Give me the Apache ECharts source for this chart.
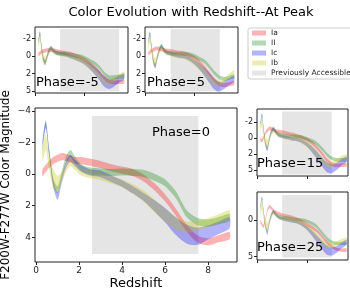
<!DOCTYPE html>
<html><head><meta charset="utf-8">
<script src="https://cdn.jsdelivr.net/npm/echarts@6/dist/echarts.min.js"></script>
<style>html,body{margin:0;padding:0;background:#fff}#c{width:350px;height:290px}</style>
</head><body><div id="c"></div>
<script>
// ---------------- DATA ----------------
const redshift = [0.3,0.45,0.6,0.8,1.0,1.2,1.4,1.6,1.8,2.1,2.5,3.0,3.5,4.0,4.5,5.0,5.5,6.0,6.5,7.0,7.5,8.0,8.5,9.0];
const typeNames = ['Ia','II','Ic','Ib'];
const spanName = 'Previously Accessible';
const phaseLabels = ['Phase=-5','Phase=5','Phase=0','Phase=15','Phase=25'];

// band thickness (mag) per type
const widthIa = [0.45,0.45,0.45,0.45,0.45,0.45,0.45,0.45,0.45,0.45,0.45,0.45,0.45,0.45,0.45,0.45,0.45,0.45,0.45,0.45,0.45,0.45,0.45,0.45];
const widthII = [0.45,0.45,0.45,0.45,0.45,0.45,0.45,0.45,0.45,0.45,0.45,0.45,0.45,0.45,0.45,0.45,0.45,0.45,0.45,0.45,0.45,0.45,0.45,0.45];
const widthIc = [0.4,0.4,0.4,0.45,0.45,0.4,0.4,0.4,0.4,0.4,0.4,0.4,0.4,0.4,0.45,0.5,0.7,0.9,1.1,1.2,1.1,0.9,0.8,0.7];
const widthIb = [0.8,1.0,1.0,1.2,1.0,0.6,0.5,0.5,0.5,0.5,0.5,0.5,0.5,0.5,0.6,0.7,0.8,0.8,0.8,0.7,0.6,0.6,0.6,0.6];

// Phase = -5
const phaseM5_Ia = [-0.2,-0.35,-0.5,-0.6,-0.65,-0.7,-0.7,-0.7,-0.65,-0.6,-0.5,-0.4,-0.3,-0.1,0.1,0.4,0.8,1.3,1.9,2.5,2.9,3.0,2.95,2.9];
const phaseM5_II = [-1.5,-2.7,-1.2,0.3,0.6,-0.2,-0.8,-0.95,-0.7,-0.4,-0.3,-0.3,-0.2,-0.1,0.0,0.2,0.5,0.8,1.3,2.0,2.4,2.4,2.35,2.3];
const phaseM5_Ic = [-1.8,-2.6,-1.2,0.4,0.8,0.0,-0.6,-0.9,-0.65,-0.4,-0.3,-0.2,0.0,0.2,0.4,0.7,1.1,1.6,2.2,2.9,3.2,3.0,2.6,2.3];
const phaseM5_Ib = [-1.2,-2.2,-0.9,0.3,0.55,0.1,-0.5,-0.8,-0.6,-0.35,-0.25,-0.15,0.0,0.2,0.4,0.7,1.1,1.6,2.2,2.8,3.0,2.7,2.3,2.05];
// Phase = 5
const phaseP5_Ia = [-0.3,-0.45,-0.6,-0.75,-0.85,-0.9,-0.85,-0.8,-0.75,-0.65,-0.6,-0.5,-0.4,-0.3,-0.1,0.2,0.7,1.3,2.0,2.7,3.2,3.3,3.2,3.05];
const phaseP5_II = [-1.5,-2.6,-1.2,0.5,1.0,0.0,-0.8,-1.2,-0.9,-0.5,-0.35,-0.3,-0.3,-0.3,-0.2,0.0,0.3,0.6,1.2,1.9,2.4,2.6,2.45,2.3];
const phaseP5_Ic = [-1.8,-2.6,-1.2,0.6,1.2,0.2,-0.6,-1.1,-0.8,-0.45,-0.3,-0.15,0.0,0.05,0.3,0.7,1.2,1.8,2.5,3.2,3.5,3.3,2.9,2.6];
const phaseP5_Ib = [-1.1,-2.0,-0.9,0.4,0.7,0.1,-0.5,-0.9,-0.7,-0.4,-0.25,-0.1,0.0,0.1,0.35,0.7,1.2,1.8,2.5,3.0,3.1,2.8,2.3,1.9];
// Phase = 0
const phase0_Ia = [-0.1,-0.35,-0.6,-0.85,-1.0,-1.1,-1.05,-0.95,-0.85,-0.85,-0.75,-0.6,-0.4,-0.25,-0.1,0.25,0.8,1.5,2.4,3.4,4.1,4.3,4.1,3.9];
const phase0_II = [-1.6,-3.2,-1.5,0.5,1.0,0.0,-0.9,-1.3,-0.9,-0.4,-0.2,-0.13,-0.1,-0.13,-0.1,-0.04,0.2,0.55,1.3,2.5,3.0,3.1,2.95,2.75];
const phase0_Ic = [-2.0,-3.1,-1.5,0.6,1.4,0.3,-0.6,-1.0,-0.7,-0.35,-0.1,0.0,0.3,0.6,1.0,1.45,2.0,2.6,3.3,3.8,3.95,3.7,3.4,3.1];
const phase0_Ib = [-1.2,-2.0,-0.8,0.3,0.6,0.2,-0.4,-0.75,-0.5,-0.15,0.0,0.13,0.35,0.6,0.95,1.4,2.0,2.6,3.1,3.35,3.3,3.1,2.85,2.6];
// Phase = 15
const phase15_Ia = [0.2,0.3,0.0,-0.6,-1.0,-1.2,-1.15,-1.0,-0.9,-0.8,-0.75,-0.6,-0.45,-0.25,-0.1,0.2,0.6,1.2,1.9,2.7,3.2,3.4,3.35,3.3];
const phase15_II = [-1.5,-2.8,-1.3,0.6,1.2,0.0,-0.9,-1.2,-0.9,-0.5,-0.35,-0.25,-0.2,-0.2,-0.1,0.1,0.35,0.7,1.3,2.0,2.5,2.7,2.7,2.7];
const phase15_Ic = [-1.8,-2.9,-1.3,0.8,1.45,0.2,-0.7,-1.1,-0.8,-0.4,-0.2,-0.05,0.1,0.2,0.4,0.8,1.4,2.1,2.9,3.6,3.8,3.5,3.0,2.6];
const phase15_Ib = [-1.0,-2.0,-0.8,0.4,0.7,0.1,-0.5,-0.9,-0.7,-0.35,-0.2,-0.05,0.05,0.15,0.4,0.8,1.3,2.0,2.7,3.3,3.3,2.9,2.5,2.3];
// Phase = 25
const phase25_Ia = [0.2,0.6,0.9,0.0,-1.3,-1.8,-1.6,-1.3,-1.1,-0.9,-0.7,-0.5,-0.35,-0.1,0.2,0.6,1.0,1.5,2.2,3.0,3.6,4.0,4.1,4.1];
const phase25_II = [-1.5,-2.9,-1.4,0.8,1.5,0.2,-0.8,-1.1,-0.85,-0.5,-0.35,-0.25,-0.15,-0.05,0.0,0.15,0.45,0.9,1.7,2.5,3.0,3.2,3.2,3.2];
const phase25_Ic = [-1.8,-3.0,-1.3,0.9,1.8,0.4,-0.6,-1.1,-0.8,-0.4,-0.15,0.0,0.15,0.3,0.6,1.1,1.8,2.6,3.4,4.1,4.3,4.0,3.5,3.0];
const phase25_Ib = [-1.0,-2.0,-0.8,0.5,0.9,0.2,-0.5,-0.9,-0.7,-0.35,-0.15,0.0,0.1,0.25,0.55,1.0,1.6,2.3,3.0,3.5,3.5,3.2,2.9,2.7];

// previously accessible region per panel: [zStart, zEnd, magTop, magBottom]
const accessM5 = [2.5, 8.5, -3.1, 4.0];
const accessP5 = [2.55, 7.55, -3.1, 4.0];
const access0 = [2.6, 7.55, -3.67, 5.06];
const access15 = [2.5, 7.5, -3.3, 4.5];
const access25 = [2.5, 7.5, -3.4, 5.1];

// tick values / labels
const mainXTicks = [0,2,4,6,8];
const smallXTicks = [0,5];
const mainYTicks = [-4,-2,0,2,4];
const mainYTickLabels = ['\u22124','\u22122','0','2','4'];
const smallYTicks = [-2,0,2,4];
const smallYTickLabels = ['-2','0','2','5'];
const p25YTicks = [0,5];
const p25YTickLabels = ['0','5'];

// ---------------- LAYOUT / STYLE ----------------
const FONT = 'DejaVu Sans';
const typeColors = ['#ff0000','#008000','#0000ff','#bfbf00'];
const bandOpacity = 0.3;
const grayColor = '#e5e5e5';
const widths = [widthIa, widthII, widthIc, widthIb];

const panels = [
  {grid:{left:35, top:27, width:93, height:66}, x:[-0.05,9.4], y:[-3.34,4.2], data:[phaseM5_Ia,phaseM5_II,phaseM5_Ic,phaseM5_Ib], access:accessM5, xt:smallXTicks, xl:false, yt:smallYTicks, yl:smallYTickLabels, fs:8, label:{left:36, top:76}},
  {grid:{left:145, top:27, width:93, height:66}, x:[-0.05,9.4], y:[-3.34,4.2], data:[phaseP5_Ia,phaseP5_II,phaseP5_Ic,phaseP5_Ib], access:accessP5, xt:smallXTicks, xl:false, yt:smallYTicks, yl:smallYTickLabels, fs:8, label:{left:147, top:76}},
  {grid:{left:35, top:108, width:202, height:154}, x:[-0.05,9.35], y:[-4.18,5.57], data:[phase0_Ia,phase0_II,phase0_Ic,phase0_Ib], access:access0, xt:mainXTicks, xl:true, yt:mainYTicks, yl:mainYTickLabels, fs:9, label:{left:152, top:126}, main:true},
  {grid:{left:257, top:109, width:91, height:67}, x:[-0.05,9.15], y:[-3.6,4.7], data:[phase15_Ia,phase15_II,phase15_Ic,phase15_Ib], access:access15, xt:smallXTicks, xl:false, yt:smallYTicks, yl:smallYTickLabels, fs:8, label:{left:257, top:157}},
  {grid:{left:257, top:192, width:91, height:68}, x:[-0.05,9.15], y:[-3.8,5.45], data:[phase25_Ia,phase25_II,phase25_Ic,phase25_Ib], access:access25, xt:smallXTicks, xl:false, yt:p25YTicks, yl:p25YTickLabels, fs:8, label:{left:257, top:241}}
];

function bandRenderer(color) {
  return function (params, api) {
    if (params.dataIndex !== 0) return null;
    const n = params.dataInsideLength;
    const upper = [], lower = [];
    for (let j = 0; j < n; j++) {
      const z = api.value(0, j), c = api.value(1, j), w = api.value(2, j);
      upper.push(api.coord([z, c - w / 2]));
      lower.push(api.coord([z, c + w / 2]));
    }
    const cs = params.coordSys;
    return {
      type: 'group',
      clipPath: {type: 'rect', shape: {x: cs.x, y: cs.y, width: cs.width, height: cs.height}},
      children: [{
        type: 'polygon',
        shape: {points: upper.concat(lower.reverse()), smooth: 0.25},
        style: {fill: color, opacity: bandOpacity}
      }]
    };
  };
}

const grids = [], xAxes = [], yAxes = [], series = [], graphics = [];
panels.forEach((p, i) => {
  grids.push(Object.assign({show:true, borderColor:'#222', borderWidth:1, backgroundColor:'transparent', outerBoundsMode:'none', containLabel:false}, p.grid));
  const xa = {
    type:'value', gridIndex:i, min:p.x[0], max:p.x[1],
    axisLine:{show:false, onZero:false},
    axisTick:{show:true, length:3, customValues:p.xt, lineStyle:{color:'#222'}},
    axisLabel:{show:p.xl, customValues:p.xt, fontSize:p.fs, color:'#222', fontFamily:FONT, margin:4},
    splitLine:{show:false}
  };
  if (p.main) Object.assign(xa, {name:'Redshift', nameLocation:'middle', nameGap:15, nameMoveOverlap:false, nameTextStyle:{fontSize:13, color:'#000', fontFamily:FONT}});
  xAxes.push(xa);
  const ya = {
    type:'value', gridIndex:i, inverse:true, min:p.y[0], max:p.y[1],
    axisLine:{show:false, onZero:false},
    axisTick:{show:true, length:3, customValues:p.yt, lineStyle:{color:'#222'}},
    axisLabel:{customValues:p.yt, fontSize:p.fs, color:'#222', fontFamily:FONT, margin:4,
      formatter:(v)=>{const k=p.yt.indexOf(v); return k>=0? p.yl[k] : '';}},
    splitLine:{show:false}
  };
  if (p.main) Object.assign(ya, {name:'F200W-F277W Color Magnitude', nameLocation:'middle', nameGap:23, nameMoveOverlap:false, nameTextStyle:{fontSize:12, color:'#000', fontFamily:FONT}});
  yAxes.push(ya);

  // gray region
  const a = p.access;
  series.push({
    type:'line', name:spanName, xAxisIndex:i, yAxisIndex:i, data:[], z:1, silent:true,
    itemStyle:{color:grayColor}, lineStyle:{opacity:0}, symbol:'none',
    markArea:{silent:true, itemStyle:{color:grayColor, opacity:1}, data:[[{coord:[a[0],a[2]]},{coord:[a[1],a[3]]}]]}
  });
  // bands
  p.data.forEach((center, k) => {
    const w = widths[k];
    series.push({
      type:'custom', name:typeNames[k], xAxisIndex:i, yAxisIndex:i, z:2, silent:true,
      itemStyle:{color:typeColors[k]},
      encode:{x:0, y:1},
      data: redshift.map((z,j)=>[z, center[j], w[j]]),
      renderItem: bandRenderer(typeColors[k])
    });
  });
  graphics.push({type:'text', left:p.label.left, top:p.label.top, z:100,
    style:{text:phaseLabels[i], fontSize:13, fontFamily:FONT, fill:'#000'}});
});

const legendItems = typeNames.map((n,k)=>({name:n, itemStyle:{color:typeColors[k], opacity:bandOpacity}}));
legendItems.push({name:spanName, itemStyle:{color:grayColor}});

const chart = echarts.init(document.getElementById('c'), null, {renderer:'canvas'});
chart.setOption({
  animation:false,
  backgroundColor:'#fff',
  title:{text:'Color Evolution with Redshift--At Peak', left:186, top:1, textAlign:'center',
    textStyle:{fontSize:13, fontWeight:'normal', color:'#000', fontFamily:FONT}},
  legend:{
    data:legendItems, orient:'vertical', left:248, top:28, width:101,
    icon:'rect', itemWidth:14, itemHeight:5, itemGap:2,
    padding:[1,4,2,4], backgroundColor:'#fff', borderColor:'#ccc', borderWidth:1, borderRadius:2,
    textStyle:{fontSize:7.5, color:'#222', fontFamily:FONT, lineHeight:8},
    selectedMode:false
  },
  grid:grids, xAxis:xAxes, yAxis:yAxes, series, graphic:graphics
});
</script></body></html>
